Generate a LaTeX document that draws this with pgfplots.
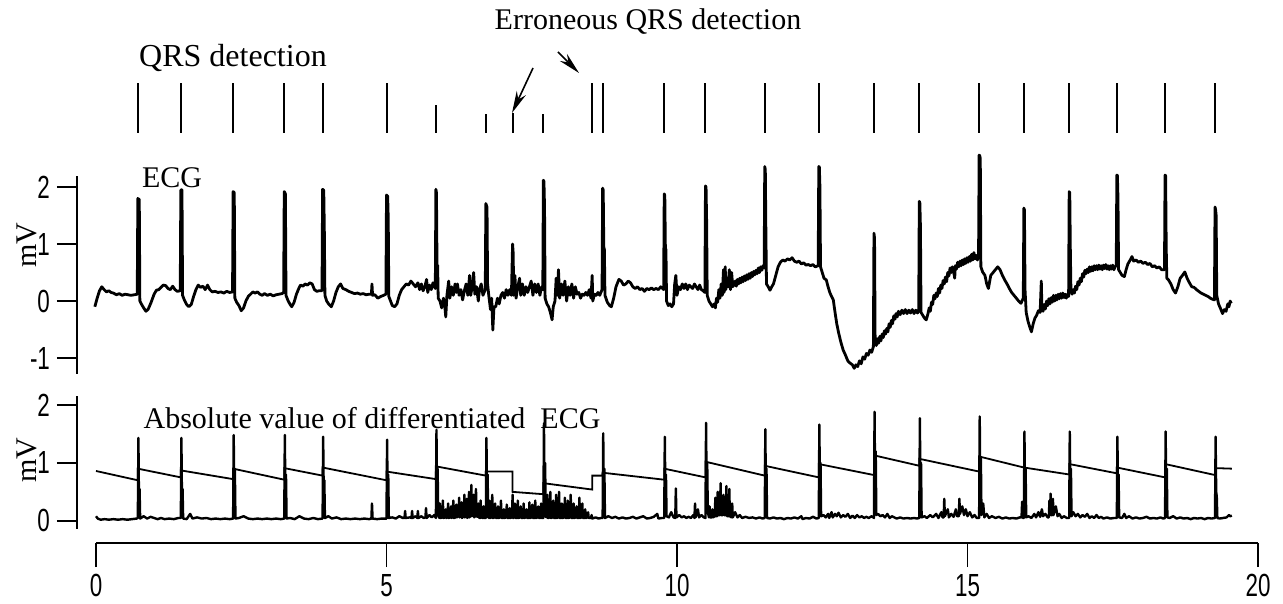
\documentclass[border=0pt]{standalone}
\usepackage{fontspec}
\setmainfont{Liberation Serif}
\newfontfamily\tickfont[FakeStretch=0.7]{Liberation Sans}
\usepackage{pgfplots}
\pgfplotsset{compat=1.18}
\usetikzlibrary{arrows.meta}

\begin{document}
\begin{tikzpicture}
\useasboundingbox (0,0) rectangle (641.5pt,302pt);
\pgfplotsset{
  panel/.style={scale only axis, width=590.5pt, xmin=-0.327, xmax=20,
    anchor=south west, hide x axis, axis y line*=left,
    y axis line style={line width=1pt},
    ytick style={line width=0.9pt, black}, major tick length=10pt, tick align=outside,
    yticklabel style={font=\tickfont\fontsize{16}{16}\selectfont},
    /pgf/number format/assume math mode=true,
    clip=false},
}
% QRS detection markers
\begin{axis}[scale only axis, width=590.5pt, height=25pt, xmin=-0.327, xmax=20,
  ymin=0, ymax=1, at={(38.5pt,235.5pt)}, anchor=south west, hide axis, clip=false]
\addplot[ycomb, line width=1pt, black, mark=none] coordinates {
(0.72,1) (1.46,1) (2.36,1) (3.24,1) (3.90,1) (5.00,1) (5.85,0.55) (6.71,0.37)
(7.17,0.40) (7.70,0.38) (8.54,1) (8.72,1) (9.78,1) (10.49,1) (11.51,1) (12.44,1)
(13.39,1) (14.17,1) (15.20,1) (15.97,1) (16.75,1) (17.57,1) (18.40,1) (19.26,1)};
\end{axis}
% ECG
\begin{axis}[panel, height=99.18pt, ymin=-1.28, ymax=2.2, ytick={-1,0,1,2},
  at={(38.5pt,115pt)}]
\addplot[black, line width=1.4pt, line join=round, mark=none] coordinates {
(-0.02,-0.10) (0.02,0.05) (0.06,0.18) (0.10,0.25) (0.14,0.20) (0.18,0.16) (0.22,0.18) (0.26,0.15) (0.30,0.14) (0.35,0.11) (0.40,0.13) (0.45,0.10) (0.50,0.12) (0.55,0.11) (0.60,0.10) (0.66,0.11) (0.71,0.12)
(0.72,1.80) (0.745,1.78) (0.755,0.00) (0.78,-0.05) (0.82,-0.12) (0.86,-0.18) (0.90,-0.14) (0.95,-0.02) (1.00,0.12) (1.04,0.19) (1.08,0.20) (1.12,0.24) (1.16,0.28) (1.20,0.27) (1.24,0.22) (1.28,0.20) (1.32,0.26) (1.36,0.20) (1.40,0.17) (1.45,0.18)
(1.46,1.95) (1.48,1.95) (1.49,0.10) (1.52,0.02) (1.56,-0.06) (1.60,-0.10) (1.64,-0.06) (1.68,0.08) (1.72,0.20) (1.76,0.28) (1.80,0.24) (1.84,0.26) (1.88,0.20) (1.92,0.28) (1.96,0.20) (2.00,0.16) (2.05,0.17) (2.10,0.15) (2.15,0.16) (2.20,0.14) (2.25,0.17) (2.30,0.15) (2.35,0.16)
(2.36,1.92) (2.38,1.90) (2.39,0.05) (2.42,-0.02) (2.46,-0.08) (2.50,-0.17) (2.54,-0.12) (2.58,0.00) (2.62,0.08) (2.66,0.12) (2.70,0.16) (2.74,0.14) (2.78,0.16) (2.82,0.12) (2.86,0.10) (2.90,0.13) (2.95,0.10) (3.00,0.12) (3.05,0.09) (3.10,0.11) (3.15,0.12) (3.20,0.13) (3.23,0.15)
(3.24,1.92) (3.26,1.88) (3.27,0.10) (3.30,0.02) (3.34,-0.06) (3.37,-0.10) (3.41,-0.02) (3.45,0.12) (3.49,0.22) (3.52,0.28) (3.56,0.26) (3.60,0.30) (3.64,0.28) (3.68,0.32) (3.72,0.30) (3.76,0.20) (3.80,0.17) (3.84,0.18) (3.89,0.18)
(3.90,1.96) (3.92,1.94) (3.93,1.25) (3.94,0.10) (3.97,0.00) (4.01,-0.06) (4.05,-0.10) (4.09,0.00) (4.13,0.15) (4.17,0.25) (4.21,0.30) (4.25,0.22) (4.30,0.20) (4.35,0.17) (4.40,0.15) (4.45,0.13) (4.50,0.14) (4.55,0.12) (4.60,0.13) (4.65,0.11) (4.70,0.12) (4.74,0.12) (4.75,0.30) (4.76,0.10) (4.80,0.11) (4.85,0.05) (4.90,0.08) (4.95,0.10) (4.99,0.12)
(5.00,1.86) (5.02,1.84) (5.03,1.45) (5.04,0.08) (5.07,0.00) (5.10,-0.08) (5.14,-0.10) (5.18,-0.05) (5.22,0.10) (5.26,0.20) (5.30,0.25) (5.34,0.30) (5.38,0.28) (5.42,0.35) (5.46,0.30) (5.50,0.25) (5.54,0.32) (5.57,0.20) (5.60,0.30) (5.63,0.18) (5.66,0.25) (5.69,0.38) (5.71,0.15) (5.74,0.28) (5.77,0.20) (5.80,0.32) (5.84,0.22)
(5.85,1.96) (5.86,1.90) (5.87,0.55) (5.88,0.63) (5.89,0.05) (5.92,0.00) (5.95,-0.12) (5.98,0.05) (6.00,-0.05) (6.02,-0.28) (6.04,0.10) (6.07,0.35) (6.09,0.05) (6.12,0.25) (6.15,0.10) (6.18,0.30) (6.20,0.15) (6.22,0.30) (6.25,0.10) (6.28,0.20) (6.31,0.02) (6.34,0.18) (6.37,0.30) (6.40,0.10) (6.43,0.45) (6.45,0.10) (6.48,0.30) (6.50,0.50) (6.52,0.12) (6.55,0.25) (6.58,0.00) (6.60,0.20) (6.63,0.30) (6.66,0.10) (6.70,0.20)
(6.71,1.71) (6.73,1.65) (6.74,0.30) (6.76,0.10) (6.79,-0.15) (6.81,0.05) (6.83,-0.51) (6.85,-0.10) (6.88,-0.10) (6.91,0.05) (6.94,-0.05) (6.97,0.10) (7.00,0.15) (7.03,0.05) (7.06,0.20) (7.09,0.10) (7.12,0.20) (7.15,0.10)
(7.17,1.00) (7.18,0.85) (7.19,0.10) (7.21,0.45) (7.23,0.05) (7.26,0.25) (7.29,0.40) (7.31,0.10) (7.34,0.30) (7.37,0.10) (7.40,0.25) (7.43,0.15) (7.46,0.25) (7.49,0.35) (7.52,0.10) (7.55,0.30) (7.58,0.15) (7.61,0.30) (7.64,0.10) (7.67,0.25) (7.69,0.20)
(7.70,2.12) (7.71,2.10) (7.72,1.65) (7.73,0.05) (7.76,-0.05) (7.79,-0.10) (7.82,-0.20) (7.85,-0.33) (7.87,-0.10) (7.90,0.00) (7.92,0.40) (7.94,0.10) (7.96,0.55) (7.98,0.05) (8.01,0.30) (8.04,0.10) (8.07,0.35) (8.10,0.00) (8.13,0.25) (8.16,0.10) (8.19,0.30) (8.22,0.05) (8.25,0.25) (8.28,0.12) (8.31,0.15) (8.34,0.05) (8.37,0.12) (8.40,0.10) (8.43,0.15) (8.46,0.10) (8.49,0.20) (8.52,0.05) (8.54,0.45) (8.55,0.00) (8.58,0.12) (8.61,0.10) (8.64,0.15) (8.67,0.10) (8.71,0.20)
(8.72,1.98) (8.73,1.95) (8.74,0.95) (8.75,0.90) (8.76,0.10) (8.80,-0.02) (8.84,-0.08) (8.87,-0.10) (8.91,0.05) (8.95,0.25) (9.00,0.38) (9.04,0.35) (9.08,0.28) (9.12,0.30) (9.16,0.35) (9.20,0.32) (9.24,0.25) (9.28,0.22) (9.32,0.25) (9.36,0.20) (9.40,0.22) (9.44,0.17) (9.48,0.22) (9.52,0.20) (9.56,0.23) (9.60,0.20) (9.64,0.22) (9.68,0.20) (9.72,0.25) (9.77,0.20)
(9.78,1.88) (9.79,1.85) (9.80,0.93) (9.81,0.90) (9.82,0.00) (9.85,-0.08) (9.88,-0.05) (9.91,-0.10) (9.94,-0.05) (9.96,0.30) (9.98,0.45) (10.00,0.10) (10.03,0.25) (10.06,0.20) (10.09,0.30) (10.12,0.22) (10.15,0.30) (10.18,0.20) (10.21,0.28) (10.24,0.25) (10.27,0.22) (10.30,0.30) (10.33,0.25) (10.36,0.20) (10.39,0.28) (10.42,0.20) (10.45,0.18) (10.48,0.15)
(10.49,2.02) (10.50,2.00) (10.51,1.40) (10.52,0.10) (10.55,0.00) (10.58,-0.05) (10.61,-0.10) (10.64,-0.05) (10.66,-0.12) (10.68,0.05) (10.70,-0.02) (10.72,0.20) (10.74,0.05) (10.76,0.30) (10.78,0.10) (10.80,0.55) (10.81,0.15) (10.83,0.60) (10.84,0.20) (10.86,0.40) (10.88,0.25) (10.90,0.55) (10.92,0.20) (10.94,0.50) (10.96,0.25) (10.98,0.30) (11.00,0.35) (11.02,0.26) (11.04,0.38) (11.06,0.30) (11.08,0.40) (11.10,0.32) (11.12,0.42) (11.14,0.34) (11.16,0.44) (11.18,0.36) (11.20,0.46) (11.22,0.38) (11.24,0.48) (11.26,0.40) (11.28,0.50) (11.30,0.43) (11.32,0.52) (11.34,0.46) (11.36,0.54) (11.38,0.48) (11.40,0.58) (11.42,0.50) (11.44,0.60) (11.46,0.54) (11.48,0.62) (11.50,0.58)
(11.51,2.36) (11.52,2.30) (11.53,1.20) (11.54,0.30) (11.57,0.25) (11.60,0.19) (11.63,0.25) (11.66,0.30) (11.70,0.45) (11.74,0.60) (11.78,0.68) (11.82,0.72) (11.86,0.70) (11.90,0.74) (11.94,0.72) (11.98,0.76) (12.02,0.70) (12.06,0.68) (12.10,0.70) (12.14,0.65) (12.18,0.67) (12.22,0.63) (12.26,0.64) (12.30,0.62) (12.34,0.64) (12.38,0.60) (12.43,0.62)
(12.44,2.36) (12.45,2.35) (12.46,2.00) (12.47,0.60) (12.50,0.50) (12.53,0.40) (12.57,0.37) (12.60,0.25) (12.63,0.15) (12.66,0.08) (12.69,0.02) (12.72,-0.20) (12.75,-0.40) (12.78,-0.55) (12.82,-0.72) (12.86,-0.86) (12.90,-0.95) (12.94,-1.05) (12.98,-1.09) (13.02,-1.12) (13.05,-1.18) (13.08,-1.12) (13.11,-1.15) (13.14,-1.05) (13.17,-1.10) (13.20,-0.98) (13.23,-1.02) (13.26,-0.92) (13.29,-0.95) (13.32,-0.86) (13.35,-0.90) (13.38,-0.80)
(13.39,1.19) (13.40,1.10) (13.41,-0.70) (13.43,-0.78) (13.45,-0.66) (13.47,-0.74) (13.49,-0.62) (13.51,-0.70) (13.53,-0.58) (13.55,-0.64) (13.57,-0.52) (13.59,-0.58) (13.61,-0.48) (13.63,-0.54) (13.65,-0.40) (13.67,-0.46) (13.69,-0.34) (13.71,-0.40) (13.73,-0.26) (13.75,-0.32) (13.77,-0.22) (13.79,-0.28) (13.81,-0.18) (13.84,-0.24) (13.87,-0.16) (13.90,-0.22) (13.93,-0.15) (13.96,-0.22) (13.99,-0.16) (14.02,-0.21) (14.05,-0.15) (14.08,-0.22) (14.11,-0.16) (14.14,-0.21) (14.16,-0.17)
(14.17,1.75) (14.18,1.72) (14.19,1.30) (14.20,-0.20) (14.23,-0.25) (14.26,-0.30) (14.29,-0.33) (14.32,-0.22) (14.34,-0.12) (14.36,-0.18) (14.38,-0.02) (14.40,-0.06) (14.42,0.10) (14.44,0.04) (14.46,0.14) (14.48,0.08) (14.50,0.22) (14.52,0.14) (14.54,0.28) (14.56,0.22) (14.58,0.36) (14.60,0.30) (14.62,0.42) (14.64,0.34) (14.66,0.50) (14.68,0.44) (14.70,0.58) (14.72,0.50) (14.74,0.60) (14.76,0.52) (14.78,0.40) (14.79,0.62) (14.81,0.56) (14.83,0.68) (14.85,0.60) (14.87,0.70) (14.89,0.62) (14.91,0.72) (14.93,0.64) (14.95,0.74) (14.97,0.66) (14.99,0.76) (15.01,0.68) (15.03,0.78) (15.05,0.70) (15.07,0.82) (15.09,0.72) (15.11,0.85) (15.13,0.74) (15.15,0.80) (15.17,0.72) (15.19,0.80)
(15.20,2.56) (15.21,2.55) (15.22,2.50) (15.23,0.60) (15.26,0.51) (15.30,0.45) (15.33,0.30) (15.36,0.22) (15.40,0.45) (15.44,0.50) (15.48,0.55) (15.52,0.60) (15.56,0.55) (15.60,0.45) (15.64,0.37) (15.68,0.30) (15.72,0.22) (15.76,0.15) (15.80,0.10) (15.84,0.05) (15.88,0.00) (15.92,-0.04) (15.96,0.05)
(15.97,1.63) (15.98,1.60) (15.99,0.20) (16.01,-0.20) (16.04,-0.35) (16.07,-0.45) (16.10,-0.54) (16.13,-0.40) (16.16,-0.30) (16.19,-0.25) (16.22,-0.17) (16.25,-0.20) (16.27,0.35) (16.28,-0.10) (16.30,-0.18) (16.32,-0.06) (16.34,-0.14) (16.36,0.00) (16.38,-0.08) (16.40,0.04) (16.42,-0.05) (16.44,0.06) (16.46,-0.02) (16.48,0.10) (16.50,0.00) (16.52,0.10) (16.54,0.02) (16.56,0.12) (16.58,0.04) (16.60,0.13) (16.62,0.05) (16.64,0.14) (16.66,0.06) (16.68,0.12) (16.70,0.05) (16.72,0.12) (16.74,0.08)
(16.75,1.92) (16.76,1.90) (16.77,0.90) (16.78,0.20) (16.80,0.12) (16.82,0.20) (16.84,0.14) (16.86,0.26) (16.88,0.20) (16.90,0.34) (16.92,0.28) (16.94,0.40) (16.96,0.34) (16.98,0.48) (17.00,0.42) (17.02,0.54) (17.04,0.48) (17.06,0.56) (17.08,0.50) (17.10,0.60) (17.12,0.52) (17.14,0.60) (17.16,0.53) (17.18,0.62) (17.20,0.55) (17.22,0.62) (17.24,0.55) (17.26,0.63) (17.28,0.56) (17.30,0.62) (17.32,0.55) (17.34,0.63) (17.36,0.57) (17.38,0.64) (17.40,0.56) (17.42,0.62) (17.44,0.55) (17.46,0.62) (17.48,0.56) (17.50,0.63) (17.52,0.55) (17.54,0.60) (17.56,0.62)
(17.57,2.21) (17.58,2.20) (17.59,1.80) (17.60,0.55) (17.63,0.50) (17.66,0.45) (17.70,0.43) (17.73,0.55) (17.76,0.65) (17.80,0.72) (17.83,0.78) (17.86,0.70) (17.90,0.72) (17.94,0.68) (17.98,0.70) (18.02,0.66) (18.06,0.68) (18.10,0.64) (18.14,0.66) (18.18,0.60) (18.22,0.62) (18.26,0.58) (18.30,0.60) (18.34,0.55) (18.39,0.55)
(18.40,2.21) (18.41,2.20) (18.42,0.95) (18.43,0.40) (18.46,0.37) (18.50,0.30) (18.54,0.20) (18.58,0.14) (18.62,0.25) (18.66,0.40) (18.70,0.45) (18.74,0.51) (18.78,0.40) (18.82,0.32) (18.86,0.25) (18.90,0.24) (18.94,0.20) (18.98,0.17) (19.02,0.14) (19.06,0.12) (19.10,0.10) (19.14,0.08) (19.18,0.05) (19.22,0.03) (19.25,0.02)
(19.26,1.65) (19.27,1.60) (19.28,1.50) (19.29,0.10) (19.32,-0.05) (19.35,-0.12) (19.39,-0.22) (19.42,-0.15) (19.45,-0.18) (19.48,-0.05) (19.50,-0.10) (19.52,0.00) (19.54,-0.04)
};
\end{axis}
% Absolute value of differentiated ECG
\begin{axis}[panel, height=66.56pt, ymin=-0.14, ymax=2.155, ytick={0,1,2},
  at={(38.5pt,37.5pt)}]
\addplot[black, line width=1.2pt, line join=round, mark=none] coordinates {
(0.00,0.08) (0.03,0.04) (0.08,0.02) (0.15,0.03) (0.22,0.02) (0.30,0.03) (0.38,0.02) (0.46,0.03) (0.54,0.02) (0.62,0.03) (0.70,0.04)
(0.72,0.05) (0.73,1.43) (0.74,0.30) (0.75,0.55) (0.76,0.04)
(0.82,0.08) (0.88,0.04) (0.94,0.07) (1.00,0.05) (1.06,0.03) (1.12,0.05) (1.18,0.03) (1.26,0.04) (1.34,0.03) (1.42,0.05)
(1.46,0.05) (1.47,1.43) (1.48,0.30) (1.49,0.55) (1.50,0.04)
(1.56,0.03) (1.62,0.12) (1.66,0.04) (1.74,0.06) (1.82,0.04) (1.90,0.05) (1.98,0.03) (2.06,0.04) (2.14,0.03) (2.22,0.04) (2.30,0.03)
(2.36,0.04) (2.37,1.48) (2.38,0.40) (2.39,0.90) (2.40,0.04)
(2.46,0.05) (2.54,0.08) (2.62,0.04) (2.70,0.03) (2.78,0.04) (2.86,0.03) (2.94,0.04) (3.02,0.03) (3.10,0.04) (3.18,0.03)
(3.24,0.04) (3.25,1.48) (3.26,0.40) (3.27,0.80) (3.28,0.04)
(3.34,0.05) (3.42,0.03) (3.50,0.08) (3.58,0.04) (3.66,0.03) (3.74,0.05) (3.82,0.03)
(3.90,0.04) (3.91,1.45) (3.92,0.40) (3.93,0.70) (3.94,0.05)
(4.00,0.08) (4.06,0.04) (4.14,0.06) (4.22,0.03) (4.30,0.04) (4.38,0.03) (4.46,0.04) (4.54,0.03) (4.62,0.04) (4.70,0.03) (4.74,0.04) (4.75,0.30) (4.76,0.04) (4.84,0.03) (4.92,0.04)
(5.00,0.04) (5.01,1.40) (5.02,0.40) (5.03,0.80) (5.04,0.05)
(5.10,0.06) (5.16,0.04) (5.22,0.08) (5.28,0.05) (5.31,0.05) (5.32,0.17) (5.33,0.05) (5.40,0.06) (5.43,0.05) (5.44,0.17) (5.45,0.05) (5.50,0.08) (5.53,0.05) (5.54,0.17) (5.55,0.05) (5.60,0.08) (5.64,0.05) (5.67,0.06) (5.68,0.22) (5.69,0.05) (5.74,0.10) (5.78,0.06) (5.82,0.10)
(5.85,0.05) (5.86,1.57) (5.87,0.40) (5.88,0.90) (5.89,0.10)
(5.91,0.05) (5.92,0.30) (5.93,0.05) (5.96,0.06) (5.97,0.35) (5.98,0.05) (6.01,0.06) (6.02,0.20) (6.03,0.05) (6.05,0.06) (6.06,0.30) (6.07,0.05) (6.10,0.06) (6.11,0.25) (6.12,0.05) (6.14,0.08) (6.15,0.35) (6.16,0.05) (6.19,0.06) (6.20,0.28) (6.21,0.06) (6.24,0.08) (6.25,0.40) (6.26,0.06) (6.28,0.10) (6.29,0.32) (6.30,0.05) (6.33,0.08) (6.34,0.45) (6.35,0.06) (6.37,0.10) (6.38,0.38) (6.39,0.05) (6.41,0.08) (6.42,0.50) (6.43,0.06) (6.45,0.12) (6.46,0.62) (6.47,0.08) (6.49,0.10) (6.50,0.45) (6.51,0.06) (6.53,0.10) (6.54,0.55) (6.55,0.08) (6.57,0.07) (6.58,0.30) (6.59,0.06) (6.61,0.05) (6.62,0.35) (6.63,0.06) (6.66,0.05) (6.67,0.25) (6.68,0.05)
(6.71,0.05) (6.72,1.43) (6.73,0.40) (6.74,0.80) (6.75,0.10)
(6.76,0.05) (6.77,0.35) (6.78,0.05) (6.81,0.06) (6.82,0.45) (6.83,0.05) (6.86,0.06) (6.87,0.30) (6.88,0.05) (6.91,0.05) (6.92,0.25) (6.93,0.05) (6.96,0.06) (6.97,0.35) (6.98,0.05) (7.01,0.05) (7.02,0.20) (7.03,0.05) (7.06,0.06) (7.07,0.28) (7.08,0.05) (7.11,0.05) (7.12,0.22) (7.13,0.05) (7.16,0.06) (7.17,0.45) (7.18,0.05) (7.20,0.06) (7.21,0.30) (7.22,0.05) (7.25,0.05) (7.26,0.35) (7.27,0.05) (7.30,0.06) (7.31,0.25) (7.32,0.05) (7.35,0.05) (7.36,0.30) (7.37,0.05) (7.40,0.06) (7.41,0.20) (7.42,0.05) (7.45,0.05) (7.46,0.32) (7.47,0.05) (7.50,0.06) (7.51,0.28) (7.52,0.05) (7.55,0.05) (7.56,0.35) (7.57,0.05) (7.60,0.06) (7.61,0.25) (7.62,0.05) (7.65,0.05) (7.66,0.30) (7.67,0.05)
(7.70,0.05) (7.71,1.68) (7.72,0.50) (7.73,1.00) (7.74,0.10)
(7.75,0.06) (7.77,0.45) (7.78,0.05) (7.81,0.06) (7.82,0.50) (7.83,0.05) (7.86,0.06) (7.87,0.35) (7.88,0.05) (7.91,0.05) (7.92,0.45) (7.93,0.05) (7.96,0.06) (7.97,0.50) (7.98,0.05) (8.01,0.05) (8.02,0.30) (8.03,0.05) (8.06,0.06) (8.07,0.40) (8.08,0.05) (8.11,0.05) (8.12,0.35) (8.13,0.05) (8.16,0.06) (8.17,0.45) (8.18,0.05) (8.21,0.05) (8.22,0.30) (8.23,0.05) (8.26,0.06) (8.27,0.25) (8.28,0.05) (8.31,0.05) (8.32,0.40) (8.33,0.05) (8.36,0.06) (8.37,0.30) (8.38,0.05) (8.41,0.05) (8.42,0.20) (8.43,0.05) (8.46,0.06) (8.47,0.15) (8.48,0.05) (8.52,0.05) (8.53,0.10) (8.54,0.04) (8.60,0.06) (8.65,0.04) (8.69,0.05)
(8.72,0.05) (8.73,1.51) (8.74,0.40) (8.75,0.90) (8.76,0.05)
(8.82,0.08) (8.88,0.05) (8.94,0.07) (9.00,0.04) (9.06,0.06) (9.12,0.04) (9.18,0.05) (9.24,0.07) (9.30,0.04) (9.36,0.06) (9.42,0.08) (9.48,0.04) (9.54,0.05) (9.60,0.07) (9.66,0.12) (9.68,0.04) (9.74,0.05)
(9.78,0.05) (9.79,1.45) (9.80,0.40) (9.81,0.80) (9.82,0.08)
(9.86,0.06) (9.90,0.15) (9.94,0.06) (9.97,0.05) (9.98,0.56) (9.99,0.06) (10.04,0.10) (10.08,0.06) (10.12,0.08) (10.16,0.05) (10.20,0.07) (10.24,0.05) (10.28,0.10) (10.30,0.05) (10.31,0.30) (10.32,0.06) (10.36,0.20) (10.38,0.06) (10.42,0.10) (10.46,0.06)
(10.49,0.05) (10.50,1.69) (10.51,0.50) (10.52,1.00) (10.53,0.15)
(10.55,0.06) (10.56,0.25) (10.57,0.06) (10.60,0.06) (10.61,0.20) (10.62,0.06) (10.65,0.08) (10.66,0.40) (10.67,0.08) (10.69,0.08) (10.70,0.50) (10.71,0.10) (10.74,0.10) (10.75,0.65) (10.76,0.10) (10.79,0.10) (10.80,0.45) (10.81,0.10) (10.84,0.10) (10.85,0.60) (10.86,0.08) (10.89,0.08) (10.90,0.55) (10.91,0.08) (10.94,0.06) (10.95,0.30) (10.96,0.06) (11.00,0.15) (11.04,0.06) (11.08,0.10) (11.12,0.05) (11.18,0.07) (11.24,0.05) (11.30,0.06) (11.36,0.04) (11.42,0.06) (11.47,0.04)
(11.51,0.05) (11.52,1.58) (11.53,0.50) (11.54,0.90) (11.55,0.05)
(11.60,0.04) (11.66,0.06) (11.72,0.04) (11.78,0.05) (11.84,0.03) (11.90,0.05) (11.96,0.04) (12.02,0.06) (12.08,0.04) (12.14,0.08) (12.16,0.03) (12.22,0.05) (12.28,0.04) (12.34,0.07) (12.40,0.04)
(12.44,0.05) (12.45,1.66) (12.46,0.50) (12.47,1.00) (12.48,0.08)
(12.52,0.10) (12.56,0.06) (12.60,0.12) (12.62,0.05) (12.66,0.15) (12.68,0.06) (12.72,0.12) (12.75,0.08) (12.78,0.14) (12.82,0.06) (12.86,0.10) (12.90,0.07) (12.94,0.12) (12.98,0.05) (13.02,0.09) (13.06,0.05) (13.10,0.10) (13.14,0.06) (13.18,0.08) (13.22,0.05) (13.26,0.07) (13.30,0.05) (13.35,0.08)
(13.39,0.05) (13.40,1.88) (13.41,0.60) (13.42,1.20) (13.43,0.10)
(13.46,0.12) (13.50,0.08) (13.54,0.10) (13.58,0.06) (13.62,0.12) (13.66,0.05) (13.70,0.08) (13.74,0.06) (13.78,0.04) (13.84,0.06) (13.90,0.04) (13.96,0.05) (14.02,0.04) (14.08,0.05) (14.13,0.04)
(14.17,0.05) (14.18,1.77) (14.19,0.50) (14.20,1.00) (14.21,0.06)
(14.26,0.08) (14.30,0.05) (14.36,0.10) (14.40,0.06) (14.46,0.12) (14.50,0.05) (14.55,0.15) (14.57,0.06) (14.59,0.06) (14.60,0.38) (14.61,0.08) (14.66,0.20) (14.68,0.06) (14.72,0.12) (14.76,0.07) (14.80,0.20) (14.82,0.08) (14.85,0.08) (14.86,0.38) (14.87,0.12) (14.91,0.25) (14.94,0.10) (14.97,0.20) (15.00,0.08) (15.04,0.15) (15.08,0.06) (15.12,0.10) (15.16,0.05)
(15.20,0.05) (15.21,1.80) (15.22,0.60) (15.23,1.10) (15.24,0.10)
(15.27,0.30) (15.29,0.06) (15.33,0.12) (15.37,0.05) (15.42,0.08) (15.48,0.05) (15.54,0.07) (15.60,0.04) (15.66,0.06) (15.72,0.04) (15.78,0.05) (15.84,0.04) (15.90,0.06) (15.93,0.06) (15.94,0.33) (15.95,0.05)
(15.97,0.05) (15.98,1.54) (15.99,0.40) (16.00,0.90) (16.01,0.06)
(16.05,0.08) (16.10,0.05) (16.15,0.12) (16.18,0.06) (16.22,0.15) (16.25,0.07) (16.28,0.20) (16.30,0.08) (16.34,0.12) (16.38,0.06) (16.40,0.06) (16.41,0.35) (16.42,0.10) (16.43,0.47) (16.44,0.10) (16.46,0.10) (16.47,0.38) (16.48,0.10) (16.52,0.25) (16.55,0.08) (16.58,0.12) (16.62,0.05) (16.66,0.08) (16.71,0.05)
(16.75,0.05) (16.76,1.54) (16.77,0.50) (16.78,0.90) (16.79,0.08)
(16.82,0.15) (16.86,0.08) (16.90,0.12) (16.94,0.06) (16.98,0.10) (17.02,0.07) (17.06,0.12) (17.10,0.05) (17.14,0.08) (17.18,0.05) (17.22,0.10) (17.26,0.05) (17.30,0.07) (17.34,0.04) (17.40,0.06) (17.46,0.04) (17.52,0.05)
(17.57,0.05) (17.58,1.45) (17.59,0.40) (17.60,0.80) (17.61,0.06)
(17.66,0.05) (17.70,0.12) (17.73,0.05) (17.78,0.08) (17.84,0.04) (17.90,0.06) (17.96,0.04) (18.02,0.05) (18.08,0.07) (18.14,0.04) (18.20,0.05) (18.26,0.04) (18.32,0.06) (18.37,0.04)
(18.40,0.05) (18.41,1.54) (18.42,0.50) (18.43,0.90) (18.44,0.06)
(18.48,0.05) (18.54,0.08) (18.60,0.04) (18.66,0.06) (18.72,0.04) (18.78,0.05) (18.84,0.03) (18.90,0.05) (18.96,0.04) (19.02,0.05) (19.08,0.03) (19.14,0.05) (19.20,0.04)
(19.26,0.05) (19.27,1.45) (19.28,0.50) (19.29,0.42) (19.30,0.05)
(19.34,0.04) (19.40,0.05) (19.46,0.06) (19.50,0.10) (19.52,0.08) (19.55,0.09)
};
\addplot[black, line width=0.9pt, mark=none] coordinates {
(0,0.86) (0.72,0.70) (0.72,0.90) (1.46,0.75) (1.46,0.87) (2.36,0.72) (2.36,0.90) (3.24,0.71)
(3.24,0.91) (3.90,0.78) (3.90,0.92) (5.00,0.70) (5.00,0.85) (5.85,0.72) (5.85,0.94) (6.71,0.78)
(6.71,0.85) (7.17,0.85) (7.17,0.50) (7.70,0.46) (7.70,0.65) (8.54,0.54) (8.54,0.78) (8.72,0.78)
(8.72,0.83) (9.78,0.71) (9.78,0.90) (10.49,0.75) (10.49,1.02) (11.51,0.78) (11.51,0.95) (12.44,0.75)
(12.44,0.98) (13.39,0.79) (13.39,1.13) (14.17,0.95) (14.17,1.07) (15.20,0.85) (15.20,1.11) (15.97,0.92)
(16.75,0.80) (16.75,0.98) (17.57,0.82) (17.57,0.92) (18.40,0.75) (18.40,0.98) (19.26,0.79) (19.26,0.91) (19.55,0.90)
};
\end{axis}
% time axis
\begin{axis}[scale only axis, width=581pt, height=10pt, at={(48pt,30.5pt)}, anchor=south west,
  xmin=0, xmax=20, ymin=0, ymax=1, axis x line*=bottom, hide y axis,
  xtick={0,5,10,15,20}, major tick length=12pt, tick align=outside,
  x axis line style={line width=1pt}, xtick style={line width=0.9pt, black},
  xticklabel style={font=\tickfont\fontsize{16}{16}\selectfont},
  /pgf/number format/assume math mode=true]
\addplot[draw=none, mark=none] coordinates {(0,0) (20,1)};
\end{axis}
% texts
\node[font=\fontsize{16}{16}\selectfont] at (116.5pt,273pt) {QRS detection};
\node[font=\fontsize{15}{15}\selectfont] at (324pt,291pt) {Erroneous QRS detection};
\node[font=\fontsize{15}{15}\selectfont] at (86pt,213pt) {ECG};
\node[font=\fontsize{15}{15}\selectfont] at (186pt,93pt) {Absolute value of differentiated\ \ ECG};
\node[font=\fontsize{15}{15}\selectfont, rotate=90] at (13.5pt,179.5pt) {mV};
\node[font=\fontsize{15}{15}\selectfont, rotate=90] at (13.5pt,72pt) {mV};
\draw[line width=0.8pt, -{Stealth[length=11pt,width=5pt]}] (266.5pt,268pt) -- (256pt,245.5pt);
\draw[line width=0.8pt, -{Stealth[length=11pt,width=5pt]}] (279pt,276pt) -- (289.5pt,265.5pt);
\end{tikzpicture}
\end{document}
